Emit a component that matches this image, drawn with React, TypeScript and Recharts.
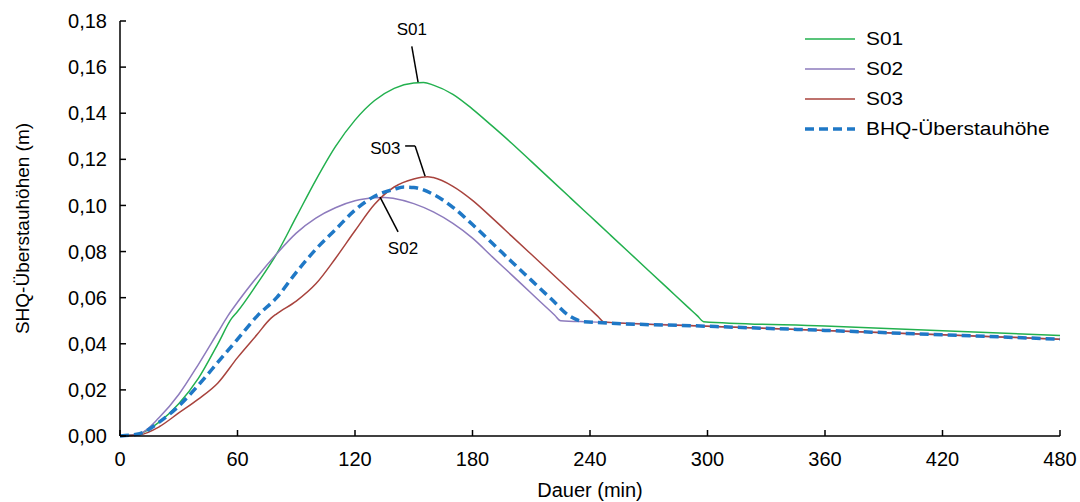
import React from "react";
import {
  LineChart,
  Line,
  XAxis,
  YAxis,
  Legend,
  ReferenceLine,
  ReferenceDot,
} from "recharts";

// Dauer (min) and water level (m)
const s01Minutes = [0, 10, 20, 30, 40, 50, 57, 60, 70, 80, 90, 100, 110, 120, 130, 140, 150, 155, 160, 170, 180, 190, 200, 210, 220, 230, 240, 250, 260, 270, 280, 290, 295, 298, 360, 420, 480];
const s01Values = [0, 0.001, 0.006, 0.014, 0.025, 0.04, 0.051, 0.054, 0.066, 0.079, 0.095, 0.111, 0.1255, 0.137, 0.1455, 0.1508, 0.1531, 0.1533, 0.1522, 0.1482, 0.1418, 0.1345, 0.127, 0.1191, 0.1112, 0.1033, 0.0954, 0.0875, 0.0796, 0.0717, 0.0638, 0.0559, 0.052, 0.0496, 0.0477, 0.0457, 0.0436];

const s02Minutes = [0, 10, 20, 30, 40, 50, 55, 60, 70, 80, 90, 100, 110, 120, 130, 135, 140, 150, 160, 170, 180, 190, 200, 210, 220, 222, 225, 240, 300, 360, 420, 480];
const s02Values = [0, 0.001, 0.008, 0.018, 0.031, 0.045, 0.052, 0.058, 0.069, 0.079, 0.088, 0.0945, 0.099, 0.102, 0.1033, 0.1035, 0.103, 0.1008, 0.0972, 0.0922, 0.0858, 0.0778, 0.0699, 0.0619, 0.054, 0.0524, 0.05, 0.0495, 0.0476, 0.0458, 0.0439, 0.042];

const s03Minutes = [0, 10, 20, 30, 40, 50, 60, 70, 77, 80, 90, 100, 110, 120, 130, 140, 150, 157, 160, 170, 180, 190, 200, 210, 220, 230, 240, 244, 247, 300, 360, 420, 480];
const s03Values = [0, 0.0005, 0.004, 0.01, 0.016, 0.023, 0.034, 0.044, 0.051, 0.053, 0.0585, 0.066, 0.077, 0.089, 0.1005, 0.108, 0.1115, 0.1125, 0.1121, 0.1083, 0.1022, 0.0946, 0.0867, 0.0788, 0.0709, 0.063, 0.0551, 0.0519, 0.0495, 0.0476, 0.0458, 0.0439, 0.042];

const bhqMinutes = [0, 10, 20, 30, 40, 50, 61, 70, 80, 90, 100, 110, 120, 130, 140, 145, 150, 160, 170, 180, 190, 200, 210, 220, 230, 237, 300, 360, 420, 480];
const bhqValues = [0, 0.001, 0.006, 0.013, 0.022, 0.032, 0.043, 0.052, 0.06, 0.071, 0.081, 0.0895, 0.098, 0.104, 0.107, 0.108, 0.1078, 0.1048, 0.0992, 0.0917, 0.0837, 0.0756, 0.0676, 0.0596, 0.0518, 0.0496, 0.0476, 0.0458, 0.0439, 0.042];

const xTicks = [0, 60, 120, 180, 240, 300, 360, 420, 480];
const yTicks = [0, 0.02, 0.04, 0.06, 0.08, 0.1, 0.12, 0.14, 0.16, 0.18];

const toRows = (minutes: number[], values: number[]) =>
  minutes.map((t, i) => ({ t, v: values[i] }));

const series = [
  { name: "S01", color: "#22b04e", width: 1.5, dash: undefined, data: toRows(s01Minutes, s01Values) },
  { name: "S02", color: "#8d7bbd", width: 1.5, dash: undefined, data: toRows(s02Minutes, s02Values) },
  { name: "S03", color: "#a8433d", width: 1.5, dash: undefined, data: toRows(s03Minutes, s03Values) },
  { name: "BHQ-Überstauhöhe", color: "#1f78c6", width: 3.5, dash: "9 5", data: toRows(bhqMinutes, bhqValues) },
];

const FONT = "'Liberation Sans', Arial, sans-serif";

const renderLegend = () => (
  <div style={{ fontFamily: FONT, fontSize: 19, color: "#000" }}>
    {series.map((s) => (
      <div key={s.name} style={{ display: "flex", alignItems: "center", height: 30 }}>
        <svg width={52} height={10} style={{ marginRight: 10 }}>
          <line
            x1={1}
            y1={5}
            x2={51}
            y2={5}
            stroke={s.color}
            strokeWidth={s.width}
            strokeDasharray={s.dash}
          />
        </svg>
        <span style={{ display: "inline-block", transform: "scaleX(1.1)", transformOrigin: "left center" }}>
          {s.name}
        </span>
      </div>
    ))}
  </div>
);

// leader lines of the in-plot annotations
const leaders: { x: number; y: number }[][] = [
  [{ x: 149, y: 0.169 }, { x: 152.2, y: 0.1535 }],
  [{ x: 145.6, y: 0.1258 }, { x: 150.7, y: 0.1258 }],
  [{ x: 150.7, y: 0.1258 }, { x: 155.8, y: 0.1127 }],
  [{ x: 142, y: 0.0885 }, { x: 132.8, y: 0.1036 }],
];

const annotations = [
  { text: "S01", x: 149, y: 0.1765 },
  { text: "S03", x: 135.5, y: 0.125 },
  { text: "S02", x: 144.5, y: 0.0815 },
];

export default function App() {
  return (
    <div style={{ position: "absolute", left: 0, top: 0, background: "#fff" }}>
      <LineChart
        width={1080}
        height={502}
        margin={{ top: 21, right: 20, left: 0, bottom: 0 }}
        style={{ fontFamily: FONT }}
      >
        <XAxis
          dataKey="t"
          type="number"
          domain={[0, 480]}
          ticks={xTicks}
          allowDuplicatedCategory={false}
          height={66}
          tick={{ fontSize: 20, fill: "#000" }}
          tickSize={-6}
          tickMargin={22}
          axisLine={{ stroke: "#000", strokeWidth: 1.5 }}
          tickLine={{ stroke: "#000", strokeWidth: 1.5 }}
          label={{
            value: "Dauer (min)",
            position: "insideBottom",
            offset: 5,
            style: { fontSize: 20, fill: "#000" },
          }}
        />
        <YAxis
          type="number"
          domain={[0, 0.18]}
          ticks={yTicks}
          width={120}
          tickFormatter={(v: number) => v.toFixed(2).replace(".", ",")}
          tick={{ fontSize: 20, fill: "#000" }}
          tickSize={-6}
          tickMargin={19}
          axisLine={{ stroke: "#000", strokeWidth: 1.5 }}
          tickLine={{ stroke: "#000", strokeWidth: 1.5 }}
          label={{
            value: "SHQ-Überstauhöhen (m)",
            angle: -90,
            position: "insideLeft",
            offset: 22,
            style: { fontSize: 19, fill: "#000", textAnchor: "middle" },
          }}
        />
        <Legend
          layout="vertical"
          align="center"
          verticalAlign="middle"
          wrapperStyle={{ top: 24, left: 804, width: 270 }}
          content={renderLegend}
        />
        {series.map((s) => (
          <Line
            key={s.name}
            data={s.data}
            dataKey="v"
            name={s.name}
            type="monotone"
            stroke={s.color}
            strokeWidth={s.width}
            strokeDasharray={s.dash}
            dot={false}
            activeDot={false}
            isAnimationActive={false}
          />
        ))}
        {leaders.map((seg, i) => (
          <ReferenceLine
            key={`leader-${i}`}
            segment={seg}
            stroke="#000"
            strokeWidth={1.5}
          />
        ))}
        {annotations.map((a) => (
          <ReferenceDot
            key={a.text}
            x={a.x}
            y={a.y}
            r={0}
            fill="none"
            stroke="none"
            label={{ value: a.text, position: "center", style: { fontSize: 17, fill: "#000" } }}
          />
        ))}
      </LineChart>
    </div>
  );
}
